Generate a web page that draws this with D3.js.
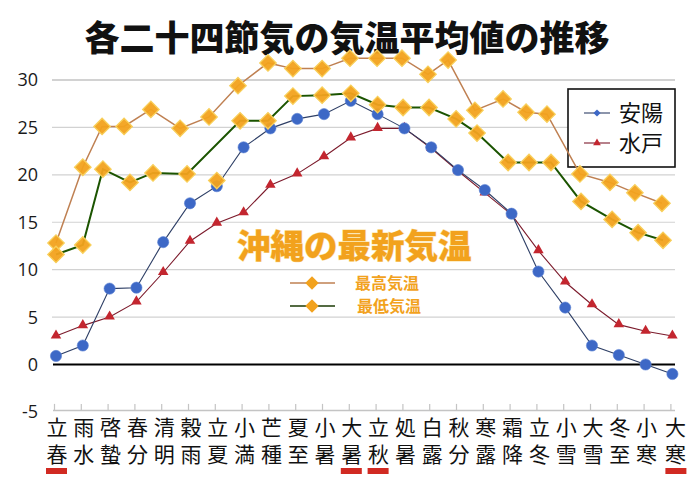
<!DOCTYPE html>
<html>
<head>
<meta charset="utf-8">
<script src="https://cdn.jsdelivr.net/npm/d3@7"></script>
<style>
  html, body { margin: 0; padding: 0; background: #fff; }
  svg { display: block; }
</style>
</head>
<body>
<svg id="chart" width="700" height="491"></svg>
<script>
// ---- data ----
const categories = ["立春","雨水","啓蟄","春分","清明","穀雨","立夏","小満","芒種","夏至","小暑","大暑",
                    "立秋","処暑","白露","秋分","寒露","霜降","立冬","小雪","大雪","冬至","小寒","大寒"];
const anyang = [0.9, 2.0, 8.0, 8.1, 12.9, 17.0, 18.8, 22.9, 24.9, 25.9, 26.4, 27.8,
                26.4, 24.9, 22.9, 20.5, 18.4, 15.9, 9.8, 6.0, 2.0, 1.0, 0.0, -1.0];
const mito = [3.0, 4.1, 5.0, 6.6, 9.7, 13.0, 14.9, 16.0, 18.9, 20.1, 21.9, 23.9,
              24.9, 24.9, 22.8, 20.4, 18.1, 15.8, 12.0, 8.7, 6.3, 4.2, 3.5, 3.0];
// Okinawa overlay (pasted-in series; its points sit at slightly irregular category positions)
const okinawaHigh = [12.8, 20.8, 25.1, 25.1, 26.9, 24.9, 26.1, 29.4, 31.8, 31.2, 31.2, 32.3,
                     32.3, 32.3, 30.6, 32.1, 26.8, 28.0, 26.6, 26.4, 20.1, 19.2, 18.1, 17.0];
const okinawaHighAt = [0, 1.0, 1.72, 2.54, 3.54, 4.63, 5.71, 6.79, 7.91, 8.84, 9.93, 10.97,
                       11.98, 12.91, 13.88, 14.63, 15.63, 16.68, 17.54, 18.32, 19.55, 20.67, 21.6, 22.61];
const okinawaLow = [11.6, 12.6, 20.6, 19.2, 20.2, 20.1, 19.4, 25.7, 25.7, 28.3, 28.4, 28.6,
                    27.4, 27.1, 27.1, 25.9, 24.4, 21.3, 21.3, 21.3, 17.2, 15.3, 13.9, 13.1];
const okinawaLowAt = [0, 1.0, 1.75, 2.76, 3.62, 4.89, 6.0, 6.87, 7.91, 8.84, 9.93, 11.0,
                      12.0, 12.95, 13.92, 14.93, 15.71, 16.87, 17.65, 18.47, 19.59, 20.75, 21.72, 22.65];
const lowLineSkip = [6];            // the low-temperature line bypasses this point in the original
const yTicks = [-5, 0, 5, 10, 15, 20, 25, 30];
const markedCategories = ["立春", "大暑", "立秋", "大寒"];
const seriesNames = ["安陽", "水戸"];
const overlayTitle = "沖縄の最新気温";
const overlayNames = ["最高気温", "最低気温"];
const title = "各二十四節気の気温平均値の推移";

// ---- scales ----
const svg = d3.select("#chart");
const x = d3.scaleLinear().domain([0, 23]).range([56, 672.4]);
const y = d3.scaleLinear().domain([-5, 30]).range([411.9, 80]);
const xLeft = 52, xRight = 675;

// colours
const C = {
  blue: "#3d68c6", blueLine: "#2e3f66",
  red: "#c3262f", redLine: "#7c1b2c",
  orange: "#f2a21d", orangeEdge: "#f8cf5a",
  tan: "#bf8052", green: "#1b5400"
};

// ---- title ----
svg.append("text")
  .attr("x", 347).attr("y", 51)
  .attr("text-anchor", "middle")
  .attr("font-family", "'Noto Sans CJK JP', sans-serif")
  .attr("font-weight", 900)
  .attr("font-size", 35)
  .attr("fill", "#111")
  .text(title);

// ---- gridlines ----
svg.append("g").selectAll("line")
  .data(yTicks.filter(t => t > 0))
  .join("line")
  .attr("x1", xLeft).attr("x2", xRight)
  .attr("y1", d => y(d)).attr("y2", d => y(d))
  .attr("stroke", "#d2d2d2")
  .attr("stroke-width", d => d === 30 ? 2 : 1.2);

// y labels
svg.append("g").selectAll("text")
  .data(yTicks)
  .join("text")
  .attr("x", 38).attr("y", d => y(d))
  .attr("dy", "0.36em")
  .attr("text-anchor", "end")
  .attr("font-family", "'Open Sans', 'Noto Sans', sans-serif")
  .attr("font-size", 18)
  .attr("fill", "#1a1a1a")
  .text(d => d);

// bottom category axis at -5 with inward ticks
const xAxis = svg.append("g");
xAxis.append("line")
  .attr("x1", xLeft + 1).attr("x2", xRight)
  .attr("y1", y(-5) - 1.5).attr("y2", y(-5) - 1.5)
  .attr("stroke", "#c4c4c4").attr("stroke-width", 1.5);
xAxis.selectAll("line.tick")
  .data(categories)
  .join("line")
  .attr("class", "tick")
  .attr("x1", (d, i) => x(i) - 1.5).attr("x2", (d, i) => x(i) - 1.5)
  .attr("y1", y(-5) - 1.5).attr("y2", y(-5) - 8)
  .attr("stroke", "#c4c4c4").attr("stroke-width", 1.2);

// zero line
svg.append("line")
  .attr("x1", xLeft + 1).attr("x2", xRight)
  .attr("y1", y(0)).attr("y2", y(0))
  .attr("stroke", "#000").attr("stroke-width", 2);

// category labels: vertical writing, one text per category
svg.append("g")
  .attr("font-family", "'Noto Sans CJK JP', sans-serif")
  .attr("font-size", 21)
  .attr("fill", "#111")
  .selectAll("text")
  .data(categories)
  .join("text")
  .attr("x", (d, i) => x(i) + (i === 23 ? 3 : 1))
  .attr("y", 417)
  .style("writing-mode", "vertical-rl")
  .style("text-orientation", "upright")
  .style("letter-spacing", "5.5px")
  .text(d => d);

// red markers under selected categories
svg.append("g").selectAll("rect")
  .data(markedCategories)
  .join("rect")
  .attr("x", d => x(categories.indexOf(d)) - 10 + (d === "大寒" ? 3 : 0))
  .attr("y", 468)
  .attr("width", 21).attr("height", 6)
  .attr("fill", "#d12a22");

// ---- Mito (red triangles) ----
const lineGen = d3.line().x((d, i) => x(i)).y(d => y(d));
svg.append("path")
  .datum(mito)
  .attr("d", lineGen)
  .attr("fill", "none").attr("stroke", C.redLine).attr("stroke-width", 1.1);
const tri = d3.symbol().type(d3.symbolTriangle).size(48);
svg.append("g").selectAll("path")
  .data(mito)
  .join("path")
  .attr("d", tri)
  .attr("transform", (d, i) => `translate(${x(i)},${y(d) - 0.5})`)
  .attr("fill", C.red);

// ---- Anyang (blue circles) ----
svg.append("path")
  .datum(anyang)
  .attr("d", lineGen)
  .attr("fill", "none").attr("stroke", C.blueLine).attr("stroke-width", 1.1);
svg.append("g").selectAll("circle")
  .data(anyang)
  .join("circle")
  .attr("cx", (d, i) => x(i)).attr("cy", d => y(d))
  .attr("r", 5.6)
  .attr("fill", C.blue)
  .attr("stroke", "#5b82d4").attr("stroke-width", 0.6);

// ---- legend box ----
const lg = svg.append("g");
lg.append("rect")
  .attr("x", 568).attr("y", 89).attr("width", 107).attr("height", 78)
  .attr("fill", "#fff").attr("stroke", "#111").attr("stroke-width", 1.6);
[{name: seriesNames[0], col: C.blueLine, mk: C.blue, ty: d3.symbolSquare, rot: 45, cy: 113},
 {name: seriesNames[1], col: C.redLine, mk: C.red, ty: d3.symbolTriangle, rot: 0, cy: 143}].forEach(e => {
  lg.append("line").attr("x1", 584).attr("x2", 610).attr("y1", e.cy).attr("y2", e.cy)
    .attr("stroke", e.col).attr("stroke-width", 1.1);
  lg.append("path").attr("d", d3.symbol().type(e.ty).size(26))
    .attr("transform", `translate(597,${e.cy}) rotate(${e.rot})`).attr("fill", e.mk);
  lg.append("text").attr("x", 619).attr("y", e.cy + 8)
    .attr("font-family", "'Noto Sans CJK JP', sans-serif")
    .attr("font-size", 22).attr("fill", "#111")
    .text(e.name);
});

// ---- Okinawa overlay ----
const diamond = d3.symbol().type(d3.symbolSquare).size(135);
function overlay(values, at, color, width, skip) {
  const pts = values.map((v, i) => ({i, v, p: at[i]}));
  svg.append("path")
    .datum(pts.filter(d => !skip.includes(d.i)))
    .attr("d", d3.line().x(d => x(d.p)).y(d => y(d.v)))
    .attr("fill", "none").attr("stroke", color).attr("stroke-width", width);
  return pts;
}
const hiPts = overlay(okinawaHigh, okinawaHighAt, C.tan, 1.5, []);
const loPts = overlay(okinawaLow, okinawaLowAt, C.green, 2, lowLineSkip);
svg.append("g").selectAll("path")
  .data(hiPts.concat(loPts))
  .join("path")
  .attr("d", diamond)
  .attr("transform", d => `translate(${x(d.p)},${y(d.v)}) rotate(45)`)
  .attr("fill", C.orange)
  .attr("fill-opacity", 0.95)
  .attr("stroke", C.orangeEdge).attr("stroke-width", 1.3);

// overlay caption
svg.append("text")
  .attr("x", 237).attr("y", 258)
  .attr("font-family", "'Noto Sans CJK JP', sans-serif")
  .attr("font-weight", 900)
  .attr("font-size", 33.5)
  .attr("fill", C.orange)
  .attr("stroke", "#fbe3a6").attr("stroke-width", 1)
  .attr("paint-order", "stroke")
  .text(overlayTitle);

// overlay mini legend
[{name: overlayNames[0], col: C.tan, cy: 283, tx: 355},
 {name: overlayNames[1], col: "#1b3a05", cy: 306, tx: 357}].forEach(e => {
  svg.append("line").attr("x1", 290).attr("x2", 335).attr("y1", e.cy).attr("y2", e.cy)
    .attr("stroke", e.col).attr("stroke-width", 1.4);
  svg.append("path").attr("d", d3.symbol().type(d3.symbolSquare).size(90))
    .attr("transform", `translate(312,${e.cy}) rotate(45)`).attr("fill", C.orange);
  svg.append("text").attr("x", e.tx).attr("y", e.cy + 6)
    .attr("font-family", "'Noto Sans CJK JP', sans-serif")
    .attr("font-weight", 700)
    .attr("font-size", 16)
    .attr("fill", C.orange)
    .text(e.name);
});
</script>
</body>
</html>
